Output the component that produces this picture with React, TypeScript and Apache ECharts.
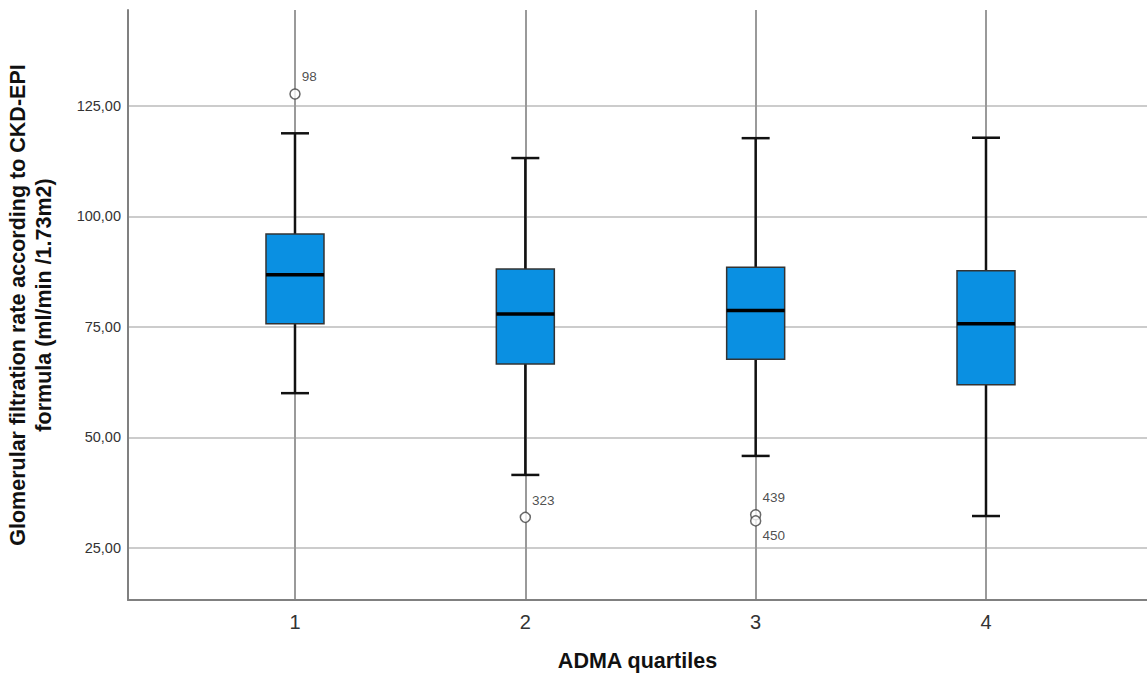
import React, { useEffect, useRef } from "react";
import * as echarts from "echarts";

const categories = [1, 2, 3, 4];
// [x, lowerWhisker, Q1, median, Q3, upperWhisker]
const boxMin = [60.0, 41.5, 45.8, 32.2];
const boxQ1 = [75.7, 66.6, 67.7, 61.9];
const boxMedian = [86.8, 77.9, 78.7, 75.7];
const boxQ3 = [96.0, 88.1, 88.5, 87.7];
const boxMax = [118.8, 113.2, 117.7, 117.8];

const outlierX = [1, 2, 3, 3];
const outlierY = [127.7, 31.9, 32.5, 31.1];
const outlierLabels = ["98", "323", "439", "450"];
const outlierLabelBelow = [false, false, false, true];

const yTicks = [25, 50, 75, 100, 125];

const FONT = "'Liberation Sans', Arial, sans-serif";

export default function App() {
  const ref = useRef<HTMLDivElement>(null);
  useEffect(() => {
    if (!ref.current) return;
    const chart = echarts.init(ref.current, undefined, { renderer: "svg" });
    const boxData = categories.map((c, i) => [c, boxMin[i], boxQ1[i], boxMedian[i], boxQ3[i], boxMax[i]]);
    const outData = outlierX.map((x, i) => ({
      value: [x, outlierY[i]],
      label: {
        show: true,
        formatter: outlierLabels[i],
        position: "right",
        distance: 1,
        offset: outlierLabelBelow[i] ? [0, 15] : [0, -17],
        color: "#222",
        fontSize: 13.5,
        fontFamily: FONT,
      },
    }));
    const BOX_W = 58;
    const CAP_W = 28;
    chart.setOption({
      animation: false,
      backgroundColor: "#ffffff",
      grid: { left: 128, right: 0, top: 10, bottom: 82, outerBoundsMode: "none", containLabel: false },
      xAxis: {
        type: "value",
        min: 0.275,
        max: 4.699,
        name: "ADMA quartiles",
        nameLocation: "middle",
        nameGap: 50,
        nameTextStyle: { fontSize: 21.5, fontWeight: "bold", color: "#111", fontFamily: FONT },
        axisLine: { show: true, onZero: false, lineStyle: { color: "#808080", width: 2 } },
        axisTick: { show: false, customValues: categories },
        axisLabel: {
          customValues: categories,
          fontSize: 20,
          color: "#333",
          margin: 12,
          fontFamily: FONT,
          formatter: (v: number) => String(v),
        },
        splitLine: { show: true, lineStyle: { color: "#9a9a9a", width: 2 } },
      },
      yAxis: {
        type: "value",
        min: 13.2,
        max: 146.7,
        name: "Glomerular filtration rate according to CKD-EPI\nformula (ml/min /1.73m2)",
        nameLocation: "middle",
        nameGap: 71,
        nameTextStyle: { fontSize: 21.5, fontWeight: "bold", color: "#111", fontFamily: FONT, lineHeight: 26 },
        axisLine: { show: true, lineStyle: { color: "#808080", width: 2 } },
        axisTick: { show: false, customValues: yTicks },
        axisLabel: {
          customValues: yTicks,
          fontSize: 14.5,
          color: "#333",
          margin: 7,
          fontFamily: FONT,
          formatter: (v: number) => v.toFixed(2).replace(".", ","),
        },
        splitLine: { show: true, lineStyle: { color: "#cccccc", width: 2 } },
      },
      series: [
        {
          type: "custom",
          data: boxData,
          encode: { x: 0, y: [1, 2, 3, 4, 5] },
          renderItem: (params: any, api: any) => {
            const x = api.value(0);
            const lo = api.coord([x, api.value(1)]);
            const q1 = api.coord([x, api.value(2)]);
            const med = api.coord([x, api.value(3)]);
            const q3 = api.coord([x, api.value(4)]);
            const hi = api.coord([x, api.value(5)]);
            const cx = lo[0];
            const wStyle = { stroke: "#111", lineWidth: 2.5 };
            return {
              type: "group",
              children: [
                { type: "line", shape: { x1: cx, y1: lo[1], x2: cx, y2: q1[1] }, style: wStyle },
                { type: "line", shape: { x1: cx, y1: hi[1], x2: cx, y2: q3[1] }, style: wStyle },
                { type: "line", shape: { x1: cx - CAP_W / 2, y1: lo[1], x2: cx + CAP_W / 2, y2: lo[1] }, style: wStyle },
                { type: "line", shape: { x1: cx - CAP_W / 2, y1: hi[1], x2: cx + CAP_W / 2, y2: hi[1] }, style: wStyle },
                {
                  type: "rect",
                  shape: { x: cx - BOX_W / 2, y: q3[1], width: BOX_W, height: q1[1] - q3[1] },
                  style: { fill: "#0a90e2", stroke: "#333", lineWidth: 1.5 },
                },
                {
                  type: "line",
                  shape: { x1: cx - BOX_W / 2, y1: med[1], x2: cx + BOX_W / 2, y2: med[1] },
                  style: { stroke: "#000", lineWidth: 3.5 },
                },
              ],
            };
          },
          z: 3,
        },
        {
          type: "scatter",
          data: outData,
          symbol: "circle",
          symbolSize: 10,
          itemStyle: { color: "#ffffff", borderColor: "#444", borderWidth: 1.5 },
          z: 4,
        },
      ],
    });
    return () => chart.dispose();
  }, []);
  return <div ref={ref} style={{ position: "fixed", left: 0, top: 0, width: 1147, height: 682 }} />;
}
